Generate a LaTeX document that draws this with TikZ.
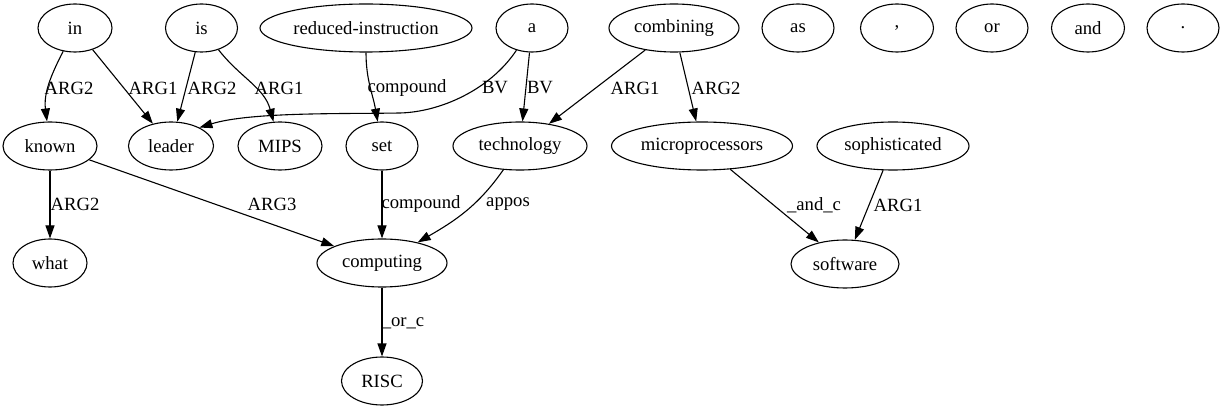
\documentclass[tikz,border=0pt]{standalone}
\usepackage{fontspec}
\setmainfont{Liberation Serif}
\usetikzlibrary{shapes.geometric,arrows.meta}
\newcommand{\gvfont}{\fontsize{18.67}{22}\selectfont}
\tikzset{
  nd/.style={draw, ellipse, line width=1.1pt, minimum height=48pt, minimum width=72pt, inner sep=0pt, font=\gvfont},
  lbl/.style={inner sep=0pt, font=\gvfont},
  arr/.style={draw, line width=1.1pt, -{Triangle[length=13pt,width=9pt]}}
}
\begin{document}
\begin{tikzpicture}[x=1pt,y=1pt]
\useasboundingbox (0,0) rectangle (1225,-411);
% row 1
\node[nd, minimum width=74pt] (in) at (75,-28) {in};
\node[nd] (is) at (201.5,-28) {is};
\node[nd, minimum width=212pt] (ri) at (366,-28) {reduced-instruction};
\node[nd] (a) at (532,-28) {a};
\node[nd, minimum width=130pt] (combining) at (674,-28) {combining};
\node[nd] (as) at (798,-28) {as};
\node[nd, minimum width=73pt] (comma) at (897,-28) {,};
\node[nd] (or) at (992,-28) {or};
\node[nd, minimum width=73pt] (and) at (1088,-28) {and};
\node[nd] (dot) at (1183,-28) {.};
% row 2
\node[nd, minimum width=94pt] (known) at (50,-146) {known};
\node[nd, minimum width=85pt] (leader) at (171,-146) {leader};
\node[nd, minimum width=84pt] (MIPS) at (280,-146) {MIPS};
\node[nd] (set) at (382,-146) {set};
\node[nd, minimum width=134pt] (technology) at (520,-146) {technology};
\node[nd, minimum width=181pt] (micro) at (702,-146) {microprocessors};
\node[nd, minimum width=152pt] (soph) at (893,-146) {sophisticated};
% row 3
\node[nd, minimum width=74pt] (what) at (50,-263) {what};
\node[nd, minimum width=130pt] (computing) at (382,-263) {computing};
\node[nd, minimum width=108pt] (software) at (845,-264) {software};
% row 4
\node[nd, minimum width=81pt] (RISC) at (382,-381) {RISC};
% edges
\draw[arr] (in) to[out=243,in=97] (known);
\draw[arr] (in) -- (leader);
\draw[arr] (is) -- (leader);
\draw[arr] (is) to[out=-52,in=105] (MIPS);
\draw[arr] (ri) to[out=-90,in=100] (set);
\coordinate (bvmid) at (400,-113);
\draw[arr] (a.235) .. controls (490,-90) and (440,-112) .. (bvmid)
  .. controls (340,-114) and (250,-112) .. (leader.33);
\draw[arr] (a) -- (technology);
\draw[arr] (combining) -- (technology);
\draw[arr] (combining) -- (micro);
\draw[arr] (known) -- (what);
\draw[arr] (known) -- (computing);
\draw[arr] (set) -- (computing);
\draw[arr] (technology) to[out=235,in=30] (computing);
\draw[arr] (computing) -- (RISC);
\draw[arr] (micro) -- (software);
\draw[arr] (soph) -- (software);
% labels
\node[lbl] (l1) at (69,-88) {ARG2};
\node[lbl] (l2) at (153,-88) {ARG1};
\node[lbl] (l3) at (212,-88) {ARG2};
\node[lbl] (l4) at (279,-88) {ARG1};
\node[lbl] (l5) at (407,-88) {compound};
\node[lbl] (l6) at (495,-88) {BV};
\node[lbl] (l7) at (540,-88) {BV};
\node[lbl] (l8) at (635,-88) {ARG1};
\node[lbl] (l9) at (716,-88) {ARG2};
\node[lbl] (l10) at (75,-204) {ARG2};
\node[lbl] (l11) at (272,-204) {ARG3};
\node[lbl] (l12) at (421,-204) {compound};
\node[lbl] (l13) at (508,-204) {appos};
\node[lbl] (l14) at (403,-323) {\_or\_c};
\node[lbl] (l15) at (814,-205) {\_and\_c};
\node[lbl] (l16) at (898,-205) {ARG1};
\end{tikzpicture}
\end{document}
